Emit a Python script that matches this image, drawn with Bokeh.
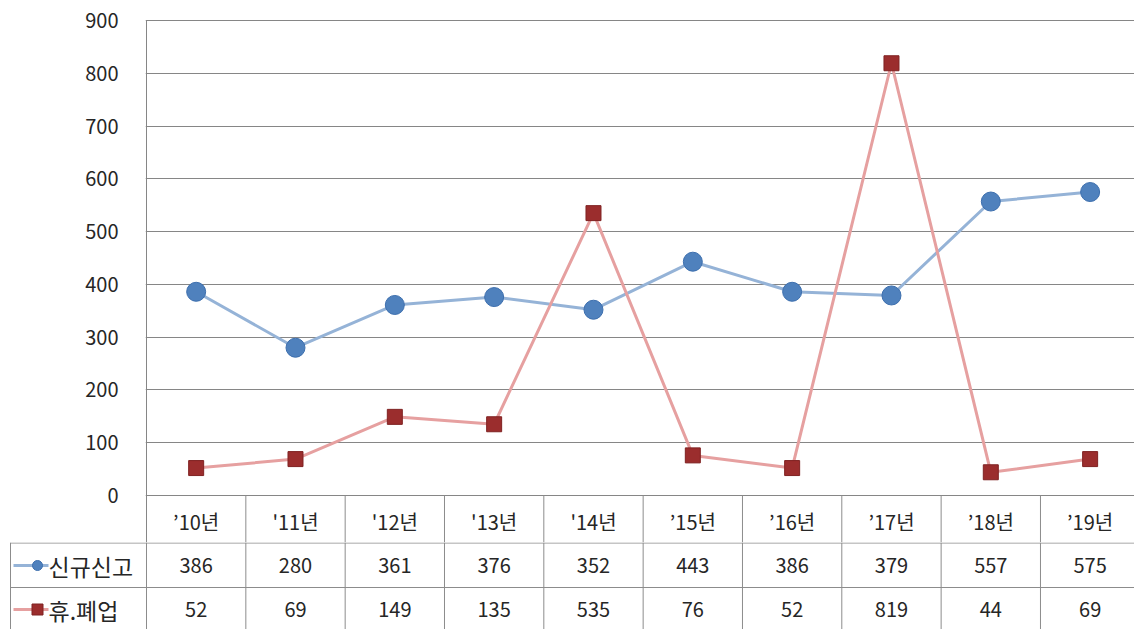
from bokeh.plotting import figure
from bokeh.models import Range1d, FixedTicker
from bokeh.core.properties import value
from bokeh.embed import file_html
from bokeh.resources import INLINE

# ---- data ----
categories = ["\u201910\ub144", "'11\ub144", "'12\ub144", "'13\ub144", "'14\ub144",
              "\u201915\ub144", "\u201916\ub144", "\u201917\ub144", "\u201918\ub144", "\u201919\ub144"]
series_names = ["\uc2e0\uaddc\uc2e0\uace0", "\ud734.\ud3d0\uc5c5"]
new_reports = [386, 280, 361, 376, 352, 443, 386, 379, 557, 575]
closures = [52, 69, 149, 135, 535, 76, 52, 819, 44, 69]
y_ticks = [0, 100, 200, 300, 400, 500, 600, 700, 800, 900]

FONT = "Noto Sans CJK KR"
GRID = "#868686"
BORDER = "#8c8c8c"
TXT = "#262626"
BLUE_LINE = "#95b3d7"
BLUE_MK = "#4f81bd"
RED_LINE = "#e6a0a0"
RED_MK = "#9b2d2d"

W = 1134
LEFT = 146
n = len(categories)
px_per_unit = 99.33              # category width in pixels
x_end = (W - LEFT) / px_per_unit  # last column runs slightly past the edge
PX_Y = 475 / 900.0               # pixels per y unit
header_units = 47 / PX_Y

xs = [i + 0.5 for i in range(n)]

# ---- chart figure (with header row of the data table) ----
p = figure(width=W, height=542, x_range=Range1d(-1 / px_per_unit, x_end),
           y_range=Range1d(-header_units, 900 + 1 / PX_Y),
           output_backend="svg", toolbar_location=None,
           x_axis_location=None,
           min_border_left=LEFT - 1, min_border_right=0,
           min_border_top=19, min_border_bottom=0)
p.background_fill_color = "white"
p.border_fill_color = "white"
p.outline_line_color = None

ticker = FixedTicker(ticks=y_ticks)
p.yaxis.ticker = ticker
p.yaxis.axis_line_color = None
p.yaxis.major_tick_line_color = None
p.yaxis.minor_tick_line_color = None
p.yaxis.major_tick_out = 0
p.yaxis.major_tick_in = 0
p.yaxis.major_label_standoff = 27
p.yaxis.major_label_text_font = FONT
p.yaxis.major_label_text_font_size = "20px"
p.yaxis.major_label_text_color = TXT
p.ygrid.ticker = ticker
p.ygrid.grid_line_color = GRID
p.ygrid.grid_line_width = 1
p.xgrid.grid_line_color = None

# plot-area left border and header row separators
p.segment(x0=[0], y0=[-header_units], x1=[0], y1=[900], line_color=GRID, line_width=1)
bounds = list(range(1, n))
p.segment(x0=bounds, y0=[0] * len(bounds), x1=bounds, y1=[-header_units] * len(bounds),
          line_color=BORDER, line_width=1)
p.text(x=xs, y=[-header_units / 2 - 4] * n, text=categories,
       text_font=value(FONT), text_font_size="20px", text_color=TXT,
       text_align="center", text_baseline="middle")

# series
p.line(xs, new_reports, line_color=BLUE_LINE, line_width=3)
p.scatter(xs, new_reports, marker="circle", size=19,
          fill_color=BLUE_MK, line_color="#3d6fae", line_width=1)
p.line(xs, closures, line_color=RED_LINE, line_width=3)
p.scatter(xs, closures, marker="square", size=15,
          fill_color=RED_MK, line_color="#7f2222", line_width=1)

# ---- data table rows ----
H2 = 87
x_start = -LEFT / px_per_unit
t = figure(width=W, height=H2, x_range=Range1d(x_start, x_end),
           y_range=Range1d(H2, 0),
           output_backend="svg", toolbar_location=None,
           x_axis_location=None, y_axis_location=None,
           min_border=0, min_border_left=0, min_border_right=0,
           min_border_top=0, min_border_bottom=0)
t.outline_line_color = None
t.grid.grid_line_color = None
t.background_fill_color = "white"
t.border_fill_color = "white"

x_tab_left = (10 - LEFT) / px_per_unit
row_mid = [23, 67]
# borders
t.segment(x0=[x_tab_left, x_tab_left], y0=[0.5, 45], x1=[n, n], y1=[0.5, 45],
          line_color=BORDER, line_width=1)
vlines = [x_tab_left] + list(range(0, n))
t.segment(x0=vlines, y0=[0] * len(vlines), x1=vlines, y1=[H2] * len(vlines),
          line_color=BORDER, line_width=1)

# legend keys in the row headers
key_x0 = (13 - LEFT) / px_per_unit
key_x1 = (48 - LEFT) / px_per_unit
key_mk = (37 - LEFT) / px_per_unit
t.segment(x0=[key_x0], y0=[row_mid[0]], x1=[key_x1], y1=[row_mid[0]],
          line_color=BLUE_LINE, line_width=3)
t.scatter([key_mk], [row_mid[0]], marker="circle", size=10,
          fill_color=BLUE_MK, line_color="#3d6fae")
t.segment(x0=[key_x0], y0=[row_mid[1]], x1=[key_x1], y1=[row_mid[1]],
          line_color=RED_LINE, line_width=3)
t.scatter([key_mk], [row_mid[1]], marker="square", size=11,
          fill_color=RED_MK, line_color="#7f2222")
name_x = (48 - LEFT) / px_per_unit
t.text(x=[name_x, name_x], y=row_mid, text=series_names,
       text_font=value(FONT), text_font_size="23px", text_color=TXT,
       text_align="left", text_baseline="middle")

# values
t.text(x=xs, y=[row_mid[0]] * n, text=[str(v) for v in new_reports],
       text_font=value(FONT), text_font_size="20px", text_color=TXT,
       text_align="center", text_baseline="middle")
t.text(x=xs, y=[row_mid[1]] * n, text=[str(v) for v in closures],
       text_font=value(FONT), text_font_size="20px", text_color=TXT,
       text_align="center", text_baseline="middle")

open("out.html", "w").write(file_html([p, t], INLINE))
